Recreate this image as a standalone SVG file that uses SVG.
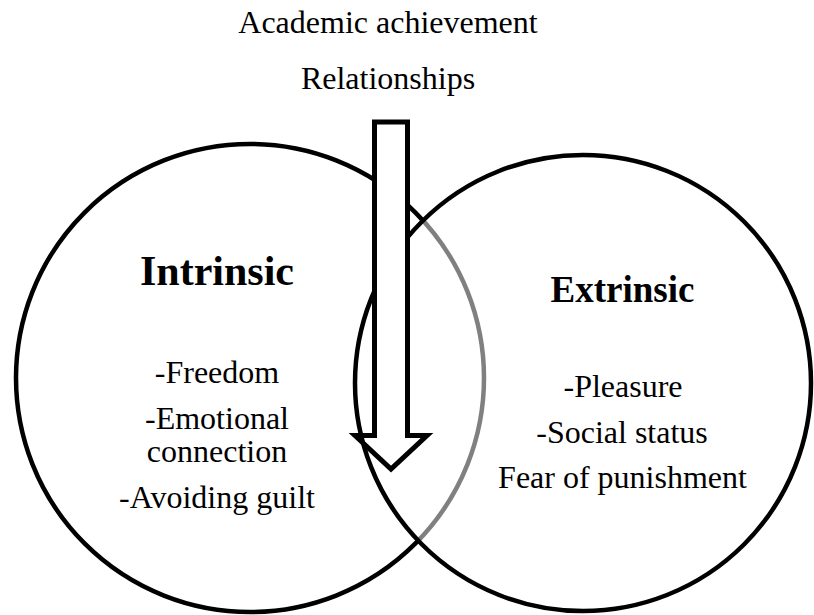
<svg xmlns="http://www.w3.org/2000/svg" width="814" height="615" viewBox="0 0 814 615">
<style>
.t{font-family:"Liberation Serif","Times New Roman",serif;font-size:32px;fill:#000;text-anchor:middle}
.b{font-family:"Liberation Serif","Times New Roman",serif;font-weight:bold;fill:#000;text-anchor:middle}
.c{stroke:#000;stroke-width:4.5}
</style>
<rect width="814" height="615" fill="#fff"/>
<g id="top-labels">
<text class="t" x="388" y="33">Academic achievement</text>
<text class="t" x="388" y="89">Relationships</text>
</g>
<g id="intrinsic">
<circle class="c" cx="250" cy="378" r="234" fill="#fff"/>
<text class="b" x="217" y="285" font-size="42">Intrinsic</text>
<text class="t" x="217" y="383">-Freedom</text>
<text class="t" x="217" y="429">-Emotional</text>
<text class="t" x="217" y="462">connection</text>
<text class="t" x="217" y="508">-Avoiding guilt</text>
</g>
<g id="extrinsic">
<circle class="c" cx="583" cy="383" r="228" fill="#fff" fill-opacity="0.5"/>
<text class="b" x="622.5" y="302" font-size="37">Extrinsic</text>
<text class="t" x="623" y="397">-Pleasure</text>
<text class="t" x="622" y="443">-Social status</text>
<text class="t" x="622.5" y="488">Fear of punishment</text>
</g>
<g id="connectors">
<g id="arrow">
<rect x="374.5" y="122" width="33" height="314" fill="#fff"/>
<polygon points="374.5,122 407.5,122 407.5,435.5 427,435.5 391,469 355,435.5 374.5,435.5" fill="none" stroke="#000" stroke-width="5" stroke-linejoin="miter"/>
</g>
</g>
</svg>
